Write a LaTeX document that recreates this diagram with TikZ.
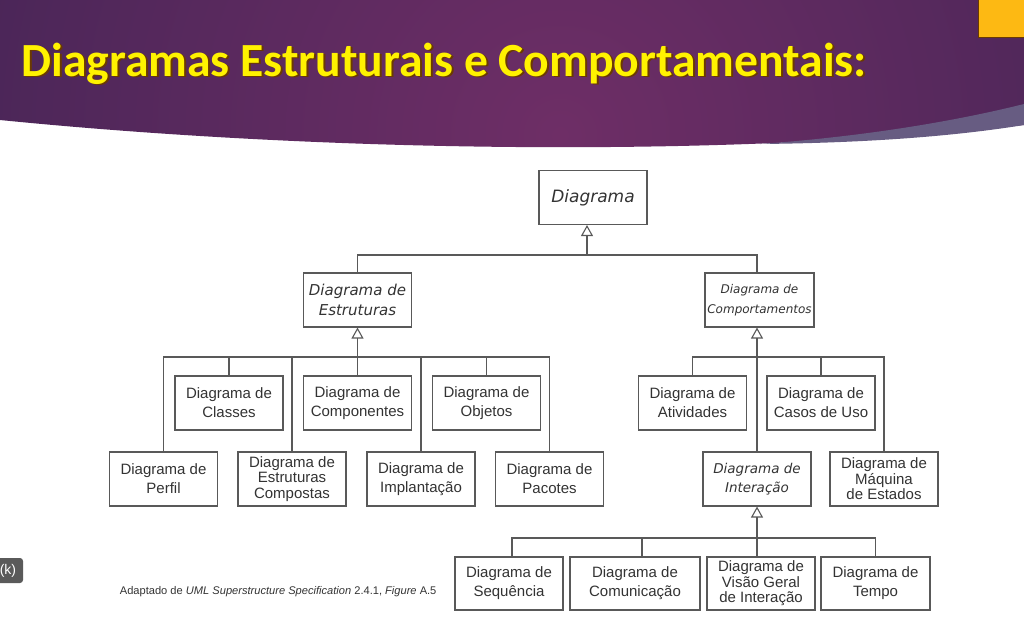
\documentclass[tikz,border=0pt]{standalone}
\usepackage{fontspec}
\setmainfont{Liberation Sans}
\newfontfamily\dejavu{DejaVu Sans}
\newfontfamily\titlefont{Carlito}
\usetikzlibrary{positioning,arrows.meta}
\definecolor{boxline}{HTML}{595959}
\definecolor{boxtext}{HTML}{333333}
\definecolor{purpdark}{HTML}{2C1F4C}
\definecolor{purpmid}{HTML}{6E2E66}
\definecolor{stripcol}{HTML}{675C82}
\definecolor{tagorange}{HTML}{FDB913}
\definecolor{tagedge}{HTML}{6B3A00}
\definecolor{kgray}{HTML}{5A5A5A}

\begin{document}
\begin{tikzpicture}[x=1pt,y=-1pt,line width=1.1pt,
    base node/.style={draw=boxline,fill=white,text=boxtext,align=center,minimum width=108pt,
      minimum height=54pt,inner sep=2pt,font=\fontsize{15}{19}\selectfont},
    tight node/.style={base node,font=\fontsize{15}{15.5}\selectfont},
    abstract node/.style={base node,font=\dejavu\itshape\fontsize{15}{20}\selectfont},
    heranca/.style={-{Triangle[open,length=11pt,width=12pt]}}]
\useasboundingbox (0,0) rectangle (1024,619);
\fill[white] (0,0) rectangle (1024,619);

% faixa do titulo
\begin{scope}
\clip (0,0) -- (1024,0) -- (1024,125) .. controls (700,160) and (300,150) .. (0,120) -- cycle;
\shade[inner color=purpmid,outer color=purpdark] (560,135) circle (1100);
\end{scope}
\fill[stripcol] (760,144) .. controls (870,136) and (960,120) .. (1024,104) -- (1024,125)
  .. controls (950,137) and (860,143) .. (760,144) -- cycle;
\fill[tagorange] (978,0) rectangle (1024,37);
\draw[tagedge,line width=1pt] (978,0) -- (978,37) -- (1024,37);
\node[anchor=base west,text=tagedge,font=\titlefont\bfseries\fontsize{47.6}{52}\selectfont]
  at (19.5,77.5) {Diagramas Estruturais e Comportamentais:};
\node[anchor=base west,text=yellow,font=\titlefont\bfseries\fontsize{47.6}{52}\selectfont]
  (titulo) at (17.5,76) {Diagramas Estruturais e Comportamentais:};

% hierarquia
\node[abstract node,font=\dejavu\itshape\fontsize{17}{20}\selectfont] (diag) at (593,197.5) {Diagrama};
\node[abstract node] (estr) at (357.5,300) {Diagrama de\\ Estruturas};
\node[abstract node,minimum width=109pt,font=\dejavu\itshape\fontsize{12}{20}\selectfont]
  (comp) at (759.5,300) {Diagrama de\\Comportamentos};

\node[base node] (classes) at (229,403) {Diagrama de\\Classes};
\node[base node] (componentes) at (357.5,403) {Diagrama de\\Componentes};
\node[base node] (objetos) at (486.5,403) {Diagrama de\\Objetos};
\node[base node] (perfil) at (163.5,479) {Diagrama de\\Perfil};
\node[tight node] (estrcomp) at (292,479) {Diagrama de\\Estruturas\\Compostas};
\node[base node] (implant) at (421,479) {Diagrama de\\Implantação};
\node[base node] (pacotes) at (549.5,479) {Diagrama de\\Pacotes};

\node[base node] (ativ) at (692.5,403) {Diagrama de\\Atividades};
\node[base node] (casos) at (821,403) {Diagrama de\\Casos de Uso};
\node[abstract node,font=\dejavu\itshape\fontsize{13.5}{19}\selectfont] (interacao) at (757,479) {Diagrama de\\Interação};
\node[tight node] (maquina) at (884,479) {Diagrama de\\Máquina\\de Estados};

\node[base node,minimum height=53pt] (sequencia) at (509,583.5) {Diagrama de\\Sequência};
\node[base node,minimum height=53pt,minimum width=130pt] (comunic) at (635,583.5) {Diagrama de\\Comunicação};
\node[tight node,minimum height=53pt] (visao) at (761,583.5) {Diagrama de\\Visão Geral\\de Interação};
\node[base node,minimum height=53pt,minimum width=109pt] (tempo) at (875.5,583.5) {Diagrama de\\Tempo};

\coordinate (b0) at (587,255);
\coordinate (bE) at (357,357);
\coordinate (bC) at (757,357);
\coordinate (bI) at (757,538);

\draw[boxline] (estr.north) |- (b0);
\draw[boxline] ([xshift=-2.5pt]comp.north) |- (b0);
\draw[boxline,heranca] (b0) -- (b0 |- diag.south);

\foreach \n in {perfil,classes,estrcomp,implant,objetos,pacotes}
  \draw[boxline] (\n.north) |- (bE);
\draw[boxline,heranca] (componentes.north) -- (estr.south);

\foreach \n in {ativ,casos,maquina}
  \draw[boxline] (\n.north) |- (bC);
\draw[boxline,heranca] (interacao.north) -- (interacao.north |- comp.south);

\foreach \n/\s in {sequencia/3,comunic/7,tempo/0}
  \draw[boxline] ([xshift=\s pt]\n.north) |- (bI);
\draw[boxline,heranca] ([xshift=-4pt]visao.north) -- (bI |- interacao.south);

% nota e etiqueta
\node[anchor=west,text=boxtext,font=\fontsize{11.1}{12}\selectfont] (fonte) at (116,592)
  {Adaptado de \textit{UML Superstructure Specification} 2.4.1, \textit{Figure} A.5};
\fill[kgray,rounded corners=3pt] (-8,558) rectangle (23,583);
\node[text=white,font=\fontsize{14}{16}\selectfont] (k) at (8,570.5) {(k)};
\end{tikzpicture}
\end{document}
